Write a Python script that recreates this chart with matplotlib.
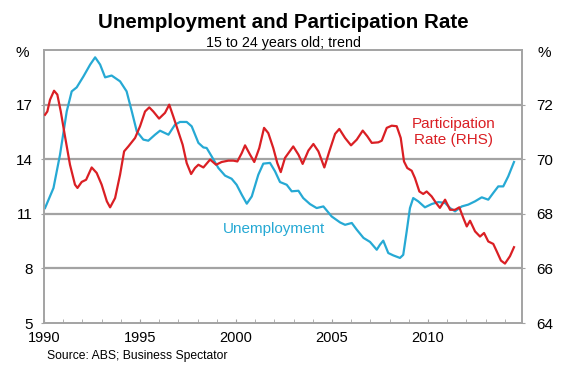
import matplotlib.pyplot as plt
from matplotlib.ticker import MultipleLocator

plt.rcParams['font.family'] = ['Liberation Sans', 'DejaVu Sans']

# unemployment rate, 15-24 year olds (% , left axis)
unemp_year = [1990.05, 1990.49, 1990.83, 1991.18, 1991.44, 1991.70, 1992.05, 1992.40,
              1992.66, 1992.92, 1993.18, 1993.52, 1993.96, 1994.30, 1994.57, 1994.83,
              1995.17, 1995.43, 1995.78, 1996.04, 1996.48, 1996.82, 1997.08, 1997.43,
              1997.69, 1998.04, 1998.30, 1998.47, 1998.73, 1999.08, 1999.43, 1999.77,
              2000.03, 2000.30, 2000.56, 2000.82, 2001.16, 2001.42, 2001.77, 2002.03,
              2002.29, 2002.64, 2002.90, 2003.25, 2003.50, 2003.85, 2004.20, 2004.55,
              2004.98, 2005.42, 2005.68, 2006.03, 2006.29, 2006.64, 2006.98, 2007.33,
              2007.50, 2007.67, 2007.93, 2008.19, 2008.54, 2008.71, 2008.89, 2009.06,
              2009.23, 2009.49, 2009.84, 2010.19, 2010.54, 2010.89, 2011.15, 2011.41,
              2011.76, 2012.10, 2012.45, 2012.80, 2013.14, 2013.40, 2013.66, 2013.92,
              2014.18, 2014.48]
unemp = [11.32, 12.42, 14.25, 16.63, 17.73, 17.95, 18.55, 19.20,
         19.60, 19.20, 18.50, 18.60, 18.28, 17.73, 16.63, 15.53,
         15.08, 15.02, 15.35, 15.57, 15.35, 15.90, 16.05, 16.05,
         15.81, 14.90, 14.65, 14.62, 14.16, 13.52, 13.10, 12.93,
         12.60, 12.05, 11.56, 11.96, 13.15, 13.76, 13.80, 13.34,
         12.75, 12.60, 12.24, 12.27, 11.87, 11.54, 11.32, 11.41,
         10.86, 10.53, 10.40, 10.50, 10.13, 9.68, 9.46, 9.03,
         9.31, 9.53, 8.85, 8.72, 8.58, 8.75, 10.04, 11.32,
         11.87, 11.69, 11.36, 11.54, 11.65, 11.60, 11.32, 11.14,
         11.41, 11.51, 11.69, 11.91, 11.78, 12.15, 12.51, 12.51,
         13.06, 13.85]

# participation rate, 15-24 year olds (%, right axis)
part_year = [1990.05, 1990.17, 1990.31, 1990.52, 1990.69, 1990.87, 1991.09, 1991.35,
             1991.61, 1991.74, 1991.96, 1992.19, 1992.48, 1992.74, 1993.00, 1993.27,
             1993.44, 1993.70, 1993.96, 1994.17, 1994.39, 1994.74, 1995.00, 1995.26,
             1995.48, 1995.69, 1995.99, 1996.30, 1996.52, 1996.73, 1996.99, 1997.22,
             1997.43, 1997.66, 1997.86, 1998.04, 1998.30, 1998.65, 1998.96, 1999.25,
             1999.60, 1999.86, 2000.07, 2000.30, 2000.47, 2000.73, 2000.95, 2001.21,
             2001.46, 2001.68, 2001.94, 2002.15, 2002.33, 2002.55, 2002.98, 2003.25,
             2003.47, 2003.77, 2004.03, 2004.29, 2004.60, 2004.86, 2005.16, 2005.38,
             2005.68, 2005.99, 2006.29, 2006.60, 2006.84, 2007.07, 2007.41, 2007.59,
             2007.85, 2008.11, 2008.37, 2008.58, 2008.75, 2008.92, 2009.15, 2009.32,
             2009.55, 2009.75, 2009.93, 2010.19, 2010.42, 2010.62, 2010.89, 2011.15,
             2011.41, 2011.63, 2011.84, 2012.02, 2012.19, 2012.45, 2012.71, 2012.92,
             2013.14, 2013.40, 2013.58, 2013.80, 2014.01, 2014.27, 2014.48]
part = [71.63, 71.75, 72.18, 72.51, 72.37, 71.75, 70.84, 69.80,
        69.07, 68.95, 69.17, 69.25, 69.70, 69.50, 69.07, 68.46,
        68.24, 68.58, 69.44, 70.29, 70.47, 70.78, 71.21, 71.75,
        71.90, 71.75, 71.49, 71.70, 72.00, 71.57, 71.02, 70.53,
        69.86, 69.46, 69.68, 69.80, 69.70, 69.99, 69.80, 69.90,
        69.95, 69.95, 69.92, 70.23, 70.51, 70.17, 69.90, 70.41,
        71.15, 70.96, 70.41, 69.86, 69.53, 70.05, 70.47, 70.17,
        69.83, 70.32, 70.56, 70.29, 69.70, 70.29, 70.93, 71.11,
        70.78, 70.51, 70.72, 71.05, 70.84, 70.60, 70.62, 70.68,
        71.15, 71.23, 71.21, 70.78, 69.92, 69.68, 69.58, 69.31,
        68.82, 68.73, 68.82, 68.64, 68.40, 68.22, 68.52, 68.15,
        68.15, 68.24, 67.85, 67.54, 67.75, 67.36, 67.17, 67.30,
        66.99, 66.90, 66.63, 66.29, 66.18, 66.45, 66.78]

left_ticks = [5, 8, 11, 14, 17]
right_ticks = [64, 66, 68, 70, 72]
year_ticks = [1990, 1995, 2000, 2005, 2010]

red = '#DA1F24'
blue = '#26A9D4'
grey = '#A3A3A3'

fig = plt.figure(figsize=(5.65, 3.68), dpi=100)
ax = fig.add_axes([0.078, 0.122, 0.846, 0.742])
ax2 = ax.twinx()

ax.set_xlim(1990, 2014.9)
ax.set_ylim(5, 20)
ax2.set_ylim(64, 74)

for v in [8, 11, 14, 17]:
    ax.axhline(v, color=grey, lw=1.6, zorder=0)

ax.plot(unemp_year, unemp, color=blue, lw=1.6, zorder=3)
ax2.plot(part_year, part, color=red, lw=1.6, zorder=3)

ax.set_yticks(left_ticks)
ax.set_yticklabels([str(t) for t in left_ticks], fontsize=11)
ax2.set_yticks(right_ticks)
ax2.set_yticklabels([str(t) for t in right_ticks], fontsize=11)
ax.set_xticks(year_ticks)
ax.set_xticklabels([str(t) for t in year_ticks], fontsize=10.5)
ax.xaxis.set_minor_locator(MultipleLocator(1))
ax.tick_params(axis='x', which='both', direction='in', length=3, color=grey, pad=6)
ax.tick_params(axis='y', direction='out', length=2, color=grey, pad=6)
ax2.tick_params(axis='y', direction='out', length=2, color=grey, pad=8)

for a in (ax, ax2):
    for s in a.spines.values():
        s.set_color(grey)
        s.set_linewidth(1.2)

fig.text(0.501, 0.924, 'Unemployment and Participation Rate', ha='center', va='baseline',
         fontsize=14.8, fontweight='bold')
fig.text(0.501, 0.873, '15 to 24 years old; trend', ha='center', va='baseline', fontsize=10.3)
fig.text(0.039, 0.845, '%', ha='center', va='baseline', fontsize=11)
fig.text(0.963, 0.845, '%', ha='center', va='baseline', fontsize=11)
fig.text(0.083, 0.025, 'Source: ABS; Business Spectator', ha='left', va='baseline', fontsize=8.7)

ax.text(2002.0, 9.97, 'Unemployment', color=blue, ha='center', va='baseline', fontsize=11)
ax2.text(2011.33, 71.0, 'Participation\nRate (RHS)', color=red, ha='center', va='center',
         fontsize=11, linespacing=1.15)

fig.savefig('out.png', dpi=100)
